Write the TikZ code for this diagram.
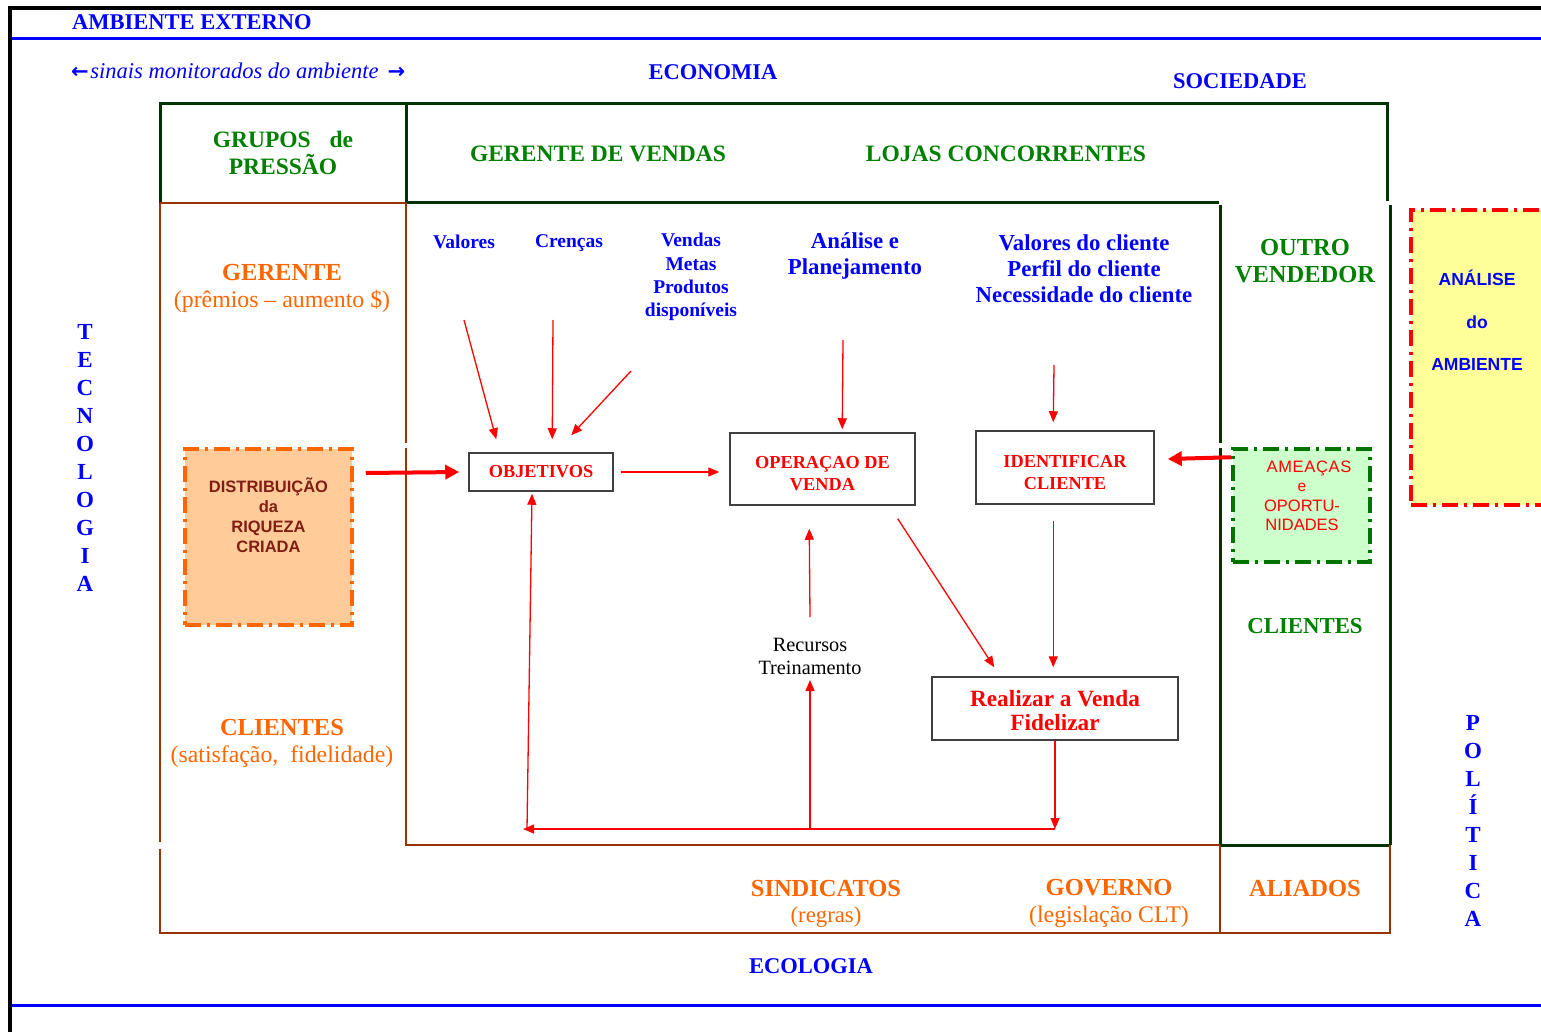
\documentclass[tikz,border=0pt]{standalone}
\usepackage{fontspec}
\setmainfont{Liberation Serif}
\setsansfont{Liberation Sans}
\newfontfamily\arrowfont{DejaVu Sans}
\usetikzlibrary{arrows.meta}

\definecolor{txtblue}{RGB}{0,0,255}
\definecolor{txtgreen}{RGB}{0,128,0}
\definecolor{linegreen}{RGB}{0,51,0}
\definecolor{linebrown}{RGB}{153,51,0}
\definecolor{txtorange}{RGB}{255,102,0}
\definecolor{peach}{RGB}{255,204,153}
\definecolor{mint}{RGB}{204,255,204}
\definecolor{paleyellow}{RGB}{255,255,153}
\definecolor{wine}{RGB}{128,30,20}
\definecolor{dashgreen}{RGB}{0,115,0}

\newcommand{\fsz}[2]{\fontsize{#1pt}{#2pt}\selectfont}
\newcommand{\lift}[1]{\rule{0pt}{#1}}

\tikzset{
  frameline/.style={line width=4pt, black},
  blueline/.style={line width=3pt, txtblue},
  grnline/.style={line width=3pt, linegreen},
  brnline/.style={line width=2.8pt, linebrown},
  envlbl/.style={text=txtblue, font=\bfseries\fsz{22.5}{27}, inner sep=0pt},
  smallblue/.style={text=txtblue, font=\bfseries\fsz{19.5}{23.3}, align=center, inner sep=0pt},
  bigblue/.style={text=txtblue, font=\bfseries\fsz{22.8}{25.8}, align=center, inner sep=0pt},
  grnlbl/.style={text=txtgreen, font=\bfseries\fsz{23.5}{27}, align=center, inner sep=0pt},
  orglbl/.style={text=txtorange, font=\bfseries\fsz{24.5}{29}, align=center, inner sep=0pt},
  orgsub/.style={text=txtorange, font=\fsz{23.8}{29}, align=center, inner sep=0pt},
  vertlbl/.style={text=txtblue, font=\bfseries\fsz{23}{28}, align=center, inner sep=0pt},
  procbox/.style={draw=black!75, line width=1.5pt, fill=white, text=red,
    font=\bfseries\fsz{18.3}{22}, align=center, inner sep=0pt},
  dashdot/.style={line width=3.5pt, dash pattern=on 16pt off 6pt on 3pt off 6pt},
  arr/.style={red, line width=1.3pt, -{Triangle[length=11pt,width=9pt]}},
  bigarr/.style={red, line width=4pt, -{Triangle[length=14pt,width=14pt]}},
}

\begin{document}
\begin{tikzpicture}[x=1pt,y=-1pt]
\clip (0,0) rectangle (1541,1032);
\fill[white] (0,0) rectangle (1541,1032);

% outer frame and environment bands
\draw[frameline] (10,1040) -- (10,8) -- (1560,8);
\draw[blueline] (12,39) -- (1560,39);
\draw[blueline] (12,1005) -- (1560,1005);

% pressure groups frame (green)
\draw[grnline] (160,203) -- (160,104) -- (1387,104) -- (1387,201);
\draw[grnline] (406,104) -- (406,203);
\draw[grnline] (406,203) -- (1219,203);
\draw[grnline] (1220,205) -- (1220,443);
\draw[grnline] (1220,448) -- (1220,845);
\draw[grnline] (1390,205) -- (1390,845);
\draw[grnline] (1220,845) -- (1390,845);

% organisation frame (brown)
\draw[brnline] (160,203) -- (406,203);
\draw[brnline] (160,203) -- (160,842);
\draw[brnline] (160,849) -- (160,933) -- (1390,933) -- (1390,845);
\draw[brnline] (406,203) -- (406,443);
\draw[brnline] (406,448) -- (406,845) -- (1220,845);
\draw[brnline, line width=2pt] (1220,845) -- (1220,933);

% top texts
\node[envlbl, anchor=west] (ambext) at (72,22) {AMBIENTE EXTERNO};
\node[anchor=west, text=txtblue, inner sep=0pt] (sinais) at (71,71)
  {{\arrowfont\bfseries\fsz{21}{24}←}\,{\itshape\fsz{22.5}{26}sinais monitorados do ambiente}\hspace{9pt}{\arrowfont\bfseries\fsz{21}{24}→}};
\node[envlbl] (economia) at (713,72) {ECONOMIA};
\node[envlbl] (sociedade) at (1240,81) {SOCIEDADE};

% pressure groups
\node[grnlbl] (grupos) at (283,153) {GRUPOS\hspace{0.8em}de\\PRESSÃO};
\node[grnlbl] (gerv) at (598,154) {GERENTE DE VENDAS};
\node[grnlbl] (lojas) at (1006,154) {LOJAS CONCORRENTES};
\node[grnlbl, font=\bfseries\fsz{24.5}{27}] (outro) at (1305,261.5) {OUTRO\\VENDEDOR};
\node[grnlbl, font=\bfseries\fsz{22.8}{27}] (clientesg) at (1305,626) {CLIENTES};

% organisation side labels
\node[orglbl] (gerente) at (282,273) {GERENTE};
\node[orgsub] (premios) at (282,301) {(prêmios – aumento \$)};
\node[orglbl] (clienteso) at (282,728) {CLIENTES};
\node[orgsub] (satisf) at (282,757) {(satisfação,\ \ fidelidade)};
\node[orglbl] (sind) at (826,888) {SINDICATOS};
\node[orgsub, font=\fsz{22.8}{29}] (regras) at (826,917) {(regras)};
\node[orglbl] (gov) at (1109,888) {GOVERNO};
\node[orgsub] (legis) at (1109,917) {(legislação CLT)};
\node[orglbl] (aliados) at (1305,888) {ALIADOS};

% environment side labels
\node[envlbl] (ecologia) at (811,966) {ECOLOGIA};
\node[vertlbl] (tecno) at (85,457.5) {T\\E\\C\\N\\O\\L\\O\\G\\I\\A};
\node[vertlbl] (politica) at (1473,821) {P\\O\\L\\Í\\T\\I\\C\\A};

% inputs of the sales manager
\node[smallblue] (valores) at (464,242) {Valores};
\node[smallblue] (crencas) at (569,243) {Crenças};
\node[smallblue] (vendas) at (691,277) {Vendas\\Metas\\Produtos\\disponíveis};
\node[bigblue] (analise) at (855,256) {Análise e\\Planejamento};
\node[bigblue] (valcli) at (1084,268.5) {Valores do cliente\\Perfil do cliente\\Necessidade do cliente};

% shaded boxes
\node[dashdot, draw=txtorange, fill=peach, minimum width=167pt, minimum height=176pt] (dist) at (268.5,537) {};
\node[text=wine, font=\sffamily\bfseries\fsz{16.5}{20}, align=center, inner sep=0pt] (distlbl) at (268.5,515)
  {DISTRIBUIÇÃO\\da\\RIQUEZA\\CRIADA};
\node[dashdot, draw=dashgreen, fill=mint, minimum width=137pt, minimum height=113pt] (am) at (1301.5,505.5) {};
\node[text=red, font=\sffamily\fsz{16.5}{19.5}, align=center, inner sep=0pt] (amlbl) at (1302,496)
  {\hspace*{14pt}{\addfontfeatures{LetterSpace=4}AMEAÇAS}\\{\fsz{15.5}{19.5}e}\\OPORTU-\\NIDADES};
\node[dashdot, draw=red, fill=paleyellow, minimum width=149pt, minimum height=295pt] (anbox) at (1485.5,357.5) {};
\node[text=txtblue, font=\sffamily\bfseries\fsz{17.5}{42.5}, align=center, inner sep=0pt] (anlbl) at (1477,320.5)
  {ANÁLISE\\do\\AMBIENTE};

% process boxes
\node[procbox, minimum width=144pt, minimum height=38pt] (obj) at (541,472) {OBJETIVOS};
\node[procbox, minimum width=185pt, minimum height=72pt] (op) at (822.5,469) {\lift{22pt}OPERAÇAO DE\\VENDA};
\node[procbox, minimum width=178pt, minimum height=73pt] (id) at (1065,467.5) {\lift{23pt}IDENTIFICAR\\CLIENTE};
\node[procbox, minimum width=246pt, minimum height=63pt, font=\bfseries\fsz{23.3}{24}] (real) at (1055,708.5)
  {\lift{20pt}Realizar a Venda\\Fidelizar};
\node[font=\fsz{20.3}{23}, align=center, inner sep=0pt] (rec) at (810,656.5) {Recursos\\Treinamento};

% free ends of connectors
\coordinate (tValores) at (464,320);
\coordinate (tCrencas) at (553,320);
\coordinate (tVendas) at (631,371);
\coordinate (tAnalise) at (843,340);
\coordinate (tCliente) at (1054,365);
\coordinate (recTail) at (810,617);
\coordinate (recTip) at (810,680);
\coordinate (loopMid) at (810,828);
\coordinate (loopCorner) at (1055,829);
\coordinate (loopL) at (523,829);
\coordinate (loopUp) at (527,829);

% connectors
\draw[arr] (tValores) -- ([xshift=28pt,yshift=13pt]obj.north west);
\draw[arr] (tCrencas) -- ([xshift=84pt,yshift=13pt]obj.north west);
\draw[arr] (tVendas) -- ([xshift=103pt,yshift=17pt]obj.north west);
\draw[bigarr] ([xshift=12pt,yshift=64pt]dist.east) -- ([xshift=-9pt]obj.west);
\draw[arr, shorten <=7pt, shorten >=10pt] (obj.east) -- (obj.east -| op.west);
\draw[arr] (tAnalise) -- ([xshift=113pt,yshift=3pt]op.north west);
\draw[arr] (tCliente) -- ([xshift=78pt,yshift=8pt]id.north west);
\draw[bigarr] ([yshift=-10pt]am.north west) -- ([xshift=13pt,yshift=8.5pt]id.east);
\draw[arr] ([xshift=-18pt,yshift=-13pt]op.south east) -- ([xshift=63pt,yshift=9pt]real.north west);
\draw[arr] ([xshift=78pt,yshift=-16pt]id.south west) -- ([xshift=122pt,yshift=9pt]real.north west);
\draw[arr] (recTail) -- ([xshift=80pt,yshift=-23pt]op.south west);
\draw[arr] (loopMid) -- (recTip);
\draw[arr] (real.south) -- (loopCorner);
\draw[arr] (loopCorner) -- (loopL);
\draw[arr] (loopUp) -- ([xshift=-9pt,yshift=-2pt]obj.south);
\end{tikzpicture}
\end{document}
